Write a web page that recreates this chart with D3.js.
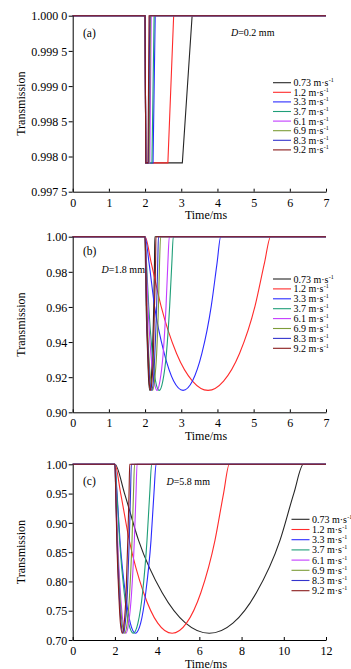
<!DOCTYPE html>
<html><head><meta charset="utf-8">
<script src="https://cdn.jsdelivr.net/npm/d3@7/dist/d3.min.js"></script>
<style>
html,body{margin:0;padding:0;background:#fff;}
text{font-family:"Liberation Serif","Times New Roman",serif;fill:#000;}
</style></head>
<body><svg id="c" width="351" height="669"></svg>
<script>
// ---------- data ----------
const speeds = ["0.73","1.2","3.3","3.7","6.1","6.9","8.3","9.2"];
const colors = ["#262626","#ff2b2b","#2b2bff","#1f9e78","#c23cff","#7d9c38","#3434cc","#8a1a1a"];

// panel (a): D=0.2 mm, trapezoid dips
const aLevels = [1, 1, 0.99791, 0.99791, 1, 1];
const aTimes = [
  [0, 2.00, 2.02, 3.03, 3.30, 7],
  [0, 2.00, 2.02, 2.63, 2.79, 7],
  [0, 2.00, 2.02, 2.22, 2.28, 7],
  [0, 2.00, 2.02, 2.19, 2.25, 7],
  [0, 2.00, 2.02, 2.13, 2.17, 7],
  [0, 2.00, 2.02, 2.11, 2.15, 7],
  [0, 2.00, 2.02, 2.09, 2.13, 7],
  [0, 2.00, 2.02, 2.08, 2.11, 7]
];
// panel (b): D=1.8 mm
const bLevels = [1, 1, 0.9851, 0.9606, 0.9335, 0.9178, 0.9125, 0.9178, 0.9335, 0.9606, 0.9851, 1, 1];
const bTimes = [
  [0, 2.00, 2.01, 2.03, 2.07, 2.10, 2.13, 2.17, 2.20, 2.24, 2.26, 2.27, 7],
  [0, 2.00, 2.17, 2.44, 2.87, 3.31, 3.74, 4.17, 4.61, 5.04, 5.30, 5.47, 7],
  [0, 2.00, 2.11, 2.26, 2.53, 2.79, 3.05, 3.31, 3.57, 3.83, 3.99, 4.09, 7],
  [0, 2.00, 2.04, 2.10, 2.20, 2.29, 2.39, 2.49, 2.59, 2.68, 2.74, 2.78, 7],
  [0, 2.00, 2.03, 2.08, 2.16, 2.25, 2.33, 2.41, 2.50, 2.58, 2.63, 2.67, 7],
  [0, 2.00, 2.02, 2.05, 2.10, 2.16, 2.21, 2.26, 2.32, 2.37, 2.40, 2.43, 7],
  [0, 2.00, 2.02, 2.04, 2.09, 2.13, 2.18, 2.23, 2.27, 2.32, 2.35, 2.37, 7],
  [0, 2.00, 2.02, 2.04, 2.08, 2.11, 2.15, 2.19, 2.23, 2.26, 2.29, 2.30, 7]
];
// panel (c): D=5.8 mm
const cLevels = [1, 1, 0.9509, 0.8701, 0.7807, 0.7287, 0.7114, 0.7287, 0.7807, 0.8701, 0.9509, 1, 1];
const cTimes = [
  [0, 2.00, 2.45, 3.12, 4.24, 5.35, 6.47, 7.59, 8.70, 9.82, 10.48, 10.93, 12],
  [0, 2.00, 2.27, 2.68, 3.36, 4.03, 4.71, 5.39, 6.07, 6.74, 7.15, 7.42, 12],
  [0, 2.00, 2.10, 2.24, 2.49, 2.73, 2.97, 3.22, 3.46, 3.71, 3.85, 3.95, 12],
  [0, 2.00, 2.09, 2.22, 2.44, 2.65, 2.87, 3.09, 3.31, 3.52, 3.65, 3.74, 12],
  [0, 2.00, 2.05, 2.13, 2.26, 2.39, 2.52, 2.65, 2.79, 2.92, 3.00, 3.05, 12],
  [0, 2.00, 2.04, 2.11, 2.23, 2.34, 2.46, 2.58, 2.70, 2.81, 2.88, 2.93, 12],
  [0, 2.00, 2.04, 2.10, 2.20, 2.29, 2.39, 2.49, 2.59, 2.68, 2.74, 2.78, 12],
  [0, 2.00, 2.04, 2.09, 2.18, 2.26, 2.35, 2.44, 2.53, 2.61, 2.67, 2.70, 12]
];

const xTicksAB = [0,1,2,3,4,5,6,7];
const xTicksC = [0,2,4,6,8,10,12];
const yTicksA = [1.0, 0.9995, 0.999, 0.9985, 0.998, 0.9975];
const yLabelsA = ["1.000 0","0.999 5","0.999 0","0.998 5","0.998 0","0.997 5"];
const yTicksB = [1.00, 0.98, 0.96, 0.94, 0.92, 0.90];
const yLabelsB = ["1.00","0.98","0.96","0.94","0.92","0.90"];
const yTicksC = [1.00, 0.95, 0.90, 0.85, 0.80, 0.75, 0.70];
const yLabelsC = ["1.00","0.95","0.90","0.85","0.80","0.75","0.70"];

// ---------- drawing ----------
const svg = d3.select("#c");
const FONT = "Liberation Serif, Times New Roman, serif";

function panel(cfg){
  const g = svg.append("g");
  const x = d3.scaleLinear().domain(cfg.xDom).range([72.7, 326]);
  const y = d3.scaleLinear().domain(cfg.yDom).range([cfg.y1, cfg.y0]);
  const line = d3.line().x(d=>x(d[0])).y(d=>y(d[1])).curve(cfg.curve);
  cfg.times.forEach((ts,i)=>{
    const pts = ts.map((t,j)=>[t, cfg.levels[j]]);
    g.append("path").attr("d", line(pts)).attr("fill","none")
      .attr("stroke", colors[i]).attr("stroke-width",1.1);
  });
  // axes
  const yAx = d3.axisLeft(y).tickValues(cfg.yTicks)
      .tickFormat((d,i)=>cfg.yLabels[i]).tickSizeInner(4).tickSizeOuter(0).tickPadding(1.5);
  const ga = g.append("g").attr("transform","translate(72.7,0)").call(yAx);
  const xAx = d3.axisBottom(x).tickValues(cfg.xTicks).tickFormat(d3.format("d"))
      .tickSizeInner(-3).tickSizeOuter(0).tickPadding(0);
  const gb = g.append("g").attr("transform",`translate(0,${cfg.y1})`).call(xAx);
  [ga,gb].forEach(a=>{
    a.attr("font-family", FONT).attr("font-size", 12);
    a.selectAll("path,line").attr("stroke","#000").attr("stroke-width",1);
    a.selectAll("text").attr("fill","#000");
  });
  ga.selectAll("text").attr("dy","0.35em");
  gb.selectAll("text").attr("y",15).attr("dy",0);
  // titles
  g.append("text").attr("x",206).attr("y",cfg.y1+27.5).attr("text-anchor","middle")
    .attr("font-size","12px").text("Time/ms");
  g.append("text").attr("transform",`translate(25,${(cfg.y0+cfg.y1)/2}) rotate(-90)`)
    .attr("text-anchor","middle").attr("font-size","12px").text("Transmission");
  g.append("text").attr("x",83).attr("y",cfg.labY).attr("font-size","11.5px").text(cfg.label);
  const dt = g.append("text").attr("x",cfg.dX).attr("y",cfg.dY).attr("font-size","10px");
  dt.append("tspan").attr("font-style","italic").text("D");
  dt.append("tspan").text(cfg.dText);
  // legend
  const lg = g.append("g");
  speeds.forEach((s,i)=>{
    const yy = cfg.legY + i*cfg.legDy;
    lg.append("line").attr("x1",cfg.legX).attr("x2",cfg.legX+18).attr("y1",yy).attr("y2",yy)
      .attr("stroke",colors[i]).attr("stroke-width",1.1);
    const t = lg.append("text").attr("x",cfg.legX+20.5).attr("y",yy+3.5).attr("font-size","10px")
      .text(s+" m·s");
    const w = t.node().getComputedTextLength();
    lg.append("text").attr("x",cfg.legX+20.5+w+0.3).attr("y",yy-0.5).attr("font-size","6px").text("-1");
  });
}

panel({xDom:[0,7], yDom:[0.9975,1.0], y0:15.7, y1:191.7, times:aTimes, levels:aLevels,
  curve:d3.curveLinear, xTicks:xTicksAB, yTicks:yTicksA, yLabels:yLabelsA,
  label:"(a)", labY:36.5, dX:231, dY:36, dText:"=0.2 mm", legX:273, legY:82.7, legDy:9.6});
panel({xDom:[0,7], yDom:[0.90,1.0], y0:236.7, y1:412.3, times:bTimes, levels:bLevels,
  curve:d3.curveMonotoneX, xTicks:xTicksAB, yTicks:yTicksB, yLabels:yLabelsB,
  label:"(b)", labY:254.5, dX:101.5, dY:273, dText:"=1.8 mm", legX:273, legY:279, legDy:9.9});
panel({xDom:[0,12], yDom:[0.70,1.0], y0:464.3, y1:640, times:cTimes, levels:cLevels,
  curve:d3.curveMonotoneX, xTicks:xTicksC, yTicks:yTicksC, yLabels:yLabelsC,
  label:"(c)", labY:484.5, dX:166.5, dY:485, dText:"=5.8 mm", legX:291.5, legY:519.3, legDy:10.2});
</script></body></html>
